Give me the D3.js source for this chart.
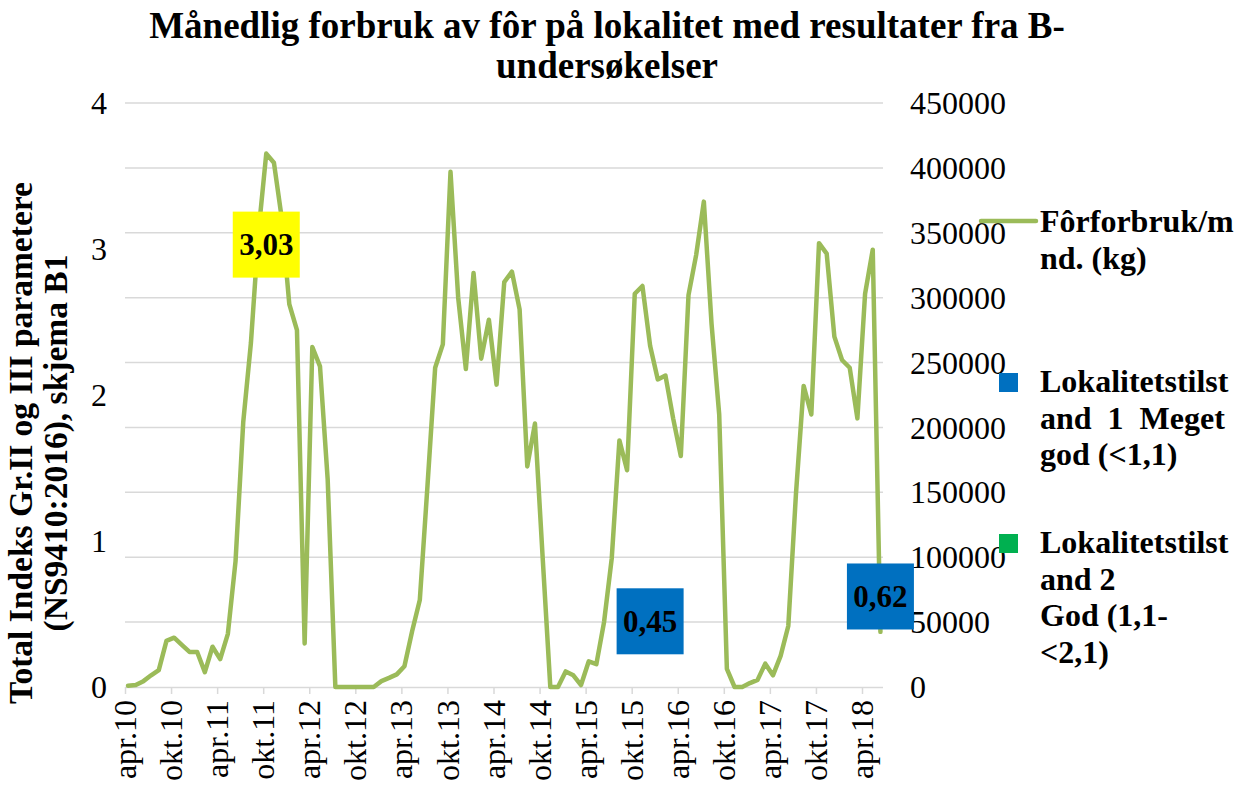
<!DOCTYPE html>
<html><head><meta charset="utf-8">
<script src="https://cdn.jsdelivr.net/npm/d3@7"></script>
<style>
html,body{margin:0;padding:0;background:#fff;}
svg{display:block;font-family:"Liberation Serif","Times New Roman",serif;}
</style></head>
<body>
<svg id="chart" width="1242" height="790"></svg>
<script>
// Months from apr.10 to jun.18
const months = [
 "apr.10","mai.10","jun.10","jul.10","aug.10","sep.10","okt.10","nov.10","des.10",
 "jan.11","feb.11","mar.11","apr.11","mai.11","jun.11","jul.11","aug.11","sep.11","okt.11","nov.11","des.11",
 "jan.12","feb.12","mar.12","apr.12","mai.12","jun.12","jul.12","aug.12","sep.12","okt.12","nov.12","des.12",
 "jan.13","feb.13","mar.13","apr.13","mai.13","jun.13","jul.13","aug.13","sep.13","okt.13","nov.13","des.13",
 "jan.14","feb.14","mar.14","apr.14","mai.14","jun.14","jul.14","aug.14","sep.14","okt.14","nov.14","des.14",
 "jan.15","feb.15","mar.15","apr.15","mai.15","jun.15","jul.15","aug.15","sep.15","okt.15","nov.15","des.15",
 "jan.16","feb.16","mar.16","apr.16","mai.16","jun.16","jul.16","aug.16","sep.16","okt.16","nov.16","des.16",
 "jan.17","feb.17","mar.17","apr.17","mai.17","jun.17","jul.17","aug.17","sep.17","okt.17","nov.17","des.17",
 "jan.18","feb.18","mar.18","apr.18","mai.18","jun.18"
];
// Monthly feed use (kg)
const feed = [
 1000,1500,4500,9000,13000,35500,38000,32500,27000,
 27000,11500,31000,21500,41000,97000,204000,265000,351000,411000,404000,362000,
 295000,275000,33500,262000,247000,160000,0,0,0,0,0,0,
 4500,7000,9700,16000,43000,67000,155000,246000,264000,397000,300000,245000,
 319000,253000,283000,233000,312000,320000,291000,170000,203000,100000,0,0,
 12000,9000,1500,19700,17600,50000,99000,190000,167000,303000,309000,263000,
 237000,240000,207000,178000,302000,333000,374000,280000,210000,14000,0,0,
 3000,5500,18000,9000,24000,47000,149000,232000,210000,342000,334000,270000,
 252000,246000,207000,303000,337000,42500
];
const tickLabels = ["apr.10","okt.10","apr.11","okt.11","apr.12","okt.12","apr.13","okt.13","apr.14","okt.14","apr.15","okt.15","apr.16","okt.16","apr.17","okt.17","apr.18"];
const leftTicks = [0,1,2,3,4];
const rightTicks = [0,50000,100000,150000,200000,250000,300000,350000,400000,450000];
// B-survey results (total index)
const surveyMonths = ["okt.11","des.15","jun.18"];
const surveyValues = [3.03, 0.45, 0.62];
const surveyColors = ["#FFFF00","#0070C0","#0070C0"];
const legendItems = [
 {type:"line", color:"#9BBB59", lines:["Fôrforbruk/m","nd. (kg)"]},
 {type:"square", color:"#0070C0", lines:["Lokalitetstilst","and  1  Meget","god (<1,1)"]},
 {type:"square", color:"#00B050", lines:["Lokalitetstilst","and 2","God (1,1-","<2,1)"]}
];

const svg = d3.select("#chart");
const x0 = 125, xTick96 = 862, xEnd = 883, yTop = 103, yBot = 687;
const x = d3.scaleLinear().domain([0, 96]).range([x0, xTick96]);
const off = 0.4;
const yL = d3.scaleLinear().domain([0, 4]).range([yBot, yTop]);
const yR = d3.scaleLinear().domain([0, 450000]).range([yBot, yTop]);
const idx = m => months.indexOf(m);

// gridlines
svg.append("g").selectAll("line").data(rightTicks.slice(1)).join("line")
  .attr("x1", x0).attr("x2", xEnd).attr("y1", d => yR(d)).attr("y2", d => yR(d))
  .attr("stroke", "#d9d9d9").attr("stroke-width", 1.5);

// x axis
const xAxis = d3.axisBottom(x)
  .tickValues(tickLabels.map(idx))
  .tickFormat(d => months[d]).tickSize(7).tickSizeOuter(0);
const gx = svg.append("g").attr("transform", `translate(0,${yBot})`).call(xAxis);
gx.select(".domain").attr("d", `M${x0},0.5H${xEnd}`).attr("stroke", "#d9d9d9").attr("stroke-width", 1.5);
gx.selectAll(".tick line").attr("stroke", "#d9d9d9").attr("stroke-width", 1.5);
gx.selectAll(".tick text")
  .attr("font-family", "Liberation Serif").attr("font-size", 32).attr("fill", "#000")
  .attr("transform", "rotate(-90)").attr("text-anchor", "end")
  .attr("x", -13).attr("y", 0).attr("dy", "0.33em");

// left axis
const gl = svg.append("g").attr("transform", `translate(${x0},0)`)
  .call(d3.axisLeft(yL).tickValues(leftTicks).tickFormat(d3.format("d")).tickSize(0));
gl.select(".domain").remove();
gl.selectAll("text").attr("font-family", "Liberation Serif").attr("font-size", 32).attr("fill", "#000")
  .attr("x", -18).attr("dy", "0.33em");

// right axis
const gr = svg.append("g").attr("transform", `translate(${xEnd},0)`)
  .call(d3.axisRight(yR).tickValues(rightTicks).tickFormat(d3.format("d")).tickSize(0));
gr.select(".domain").remove();
gr.selectAll("text").attr("font-family", "Liberation Serif").attr("font-size", 32).attr("fill", "#000")
  .attr("x", 27).attr("dy", "0.33em");

// line
const line = d3.line().x((d, i) => x(i + off)).y(d => yR(d));
svg.append("path").datum(feed).attr("d", line)
  .attr("fill", "none").attr("stroke", "#9BBB59").attr("stroke-width", 4.5)
  .attr("stroke-linejoin", "round").attr("stroke-linecap", "round");

// survey labels
const bw = 67, bh = 66;
const sg = svg.append("g").selectAll("g").data(surveyValues).join("g")
  .attr("transform", (d, i) => `translate(${x(idx(surveyMonths[i]) + off)},${yL(d)})`);
sg.append("rect").attr("x", -bw/2).attr("y", -bh/2).attr("width", bw).attr("height", bh)
  .attr("fill", (d, i) => surveyColors[i]);
sg.append("text").attr("text-anchor", "middle").attr("dy", "0.35em")
  .attr("font-size", 31).attr("font-weight", "bold").attr("fill", "#000")
  .text(d => d3.format(".2f")(d).replace(".", ","));

// title
const title = svg.append("text").attr("text-anchor", "middle").attr("font-weight", "bold").attr("font-size", 37);
title.append("tspan").attr("x", 607).attr("y", 38).text("Månedlig forbruk av fôr på lokalitet med resultater fra B-");
title.append("tspan").attr("x", 607).attr("y", 78).text("undersøkelser");

// y axis title
const yt = svg.append("text").attr("transform", "translate(0,443) rotate(-90)")
  .attr("text-anchor", "middle").attr("font-weight", "bold").attr("font-size", 33.5);
yt.append("tspan").attr("x", 0).attr("y", 32).text("Total Indeks Gr.II og III parametere");
yt.append("tspan").attr("x", 0).attr("y", 67).text("(NS9410:2016), skjema B1");

// legend
const legTop = [221, 382, 543];
const lg = svg.append("g").selectAll("g").data(legendItems).join("g")
  .attr("transform", (d, i) => `translate(0,${legTop[i]})`);
lg.each(function(d) {
  const g = d3.select(this);
  if (d.type === "line") {
    g.append("line").attr("x1", 981).attr("x2", 1036).attr("y1", 0).attr("y2", 0)
      .attr("stroke", d.color).attr("stroke-width", 4.5).attr("stroke-linecap", "round");
  } else {
    g.append("rect").attr("x", 999).attr("y", -9).attr("width", 19).attr("height", 19).attr("fill", d.color);
  }
  const t = g.append("text").attr("font-weight", "bold").attr("font-size", 32);
  d.lines.forEach((s, k) => {
    t.append("tspan").attr("x", 1040).attr("y", (d.type === "line" ? 11 : 10) + k * 36.5).attr("xml:space", "preserve").text(s);
  });
});
</script>
</body></html>
